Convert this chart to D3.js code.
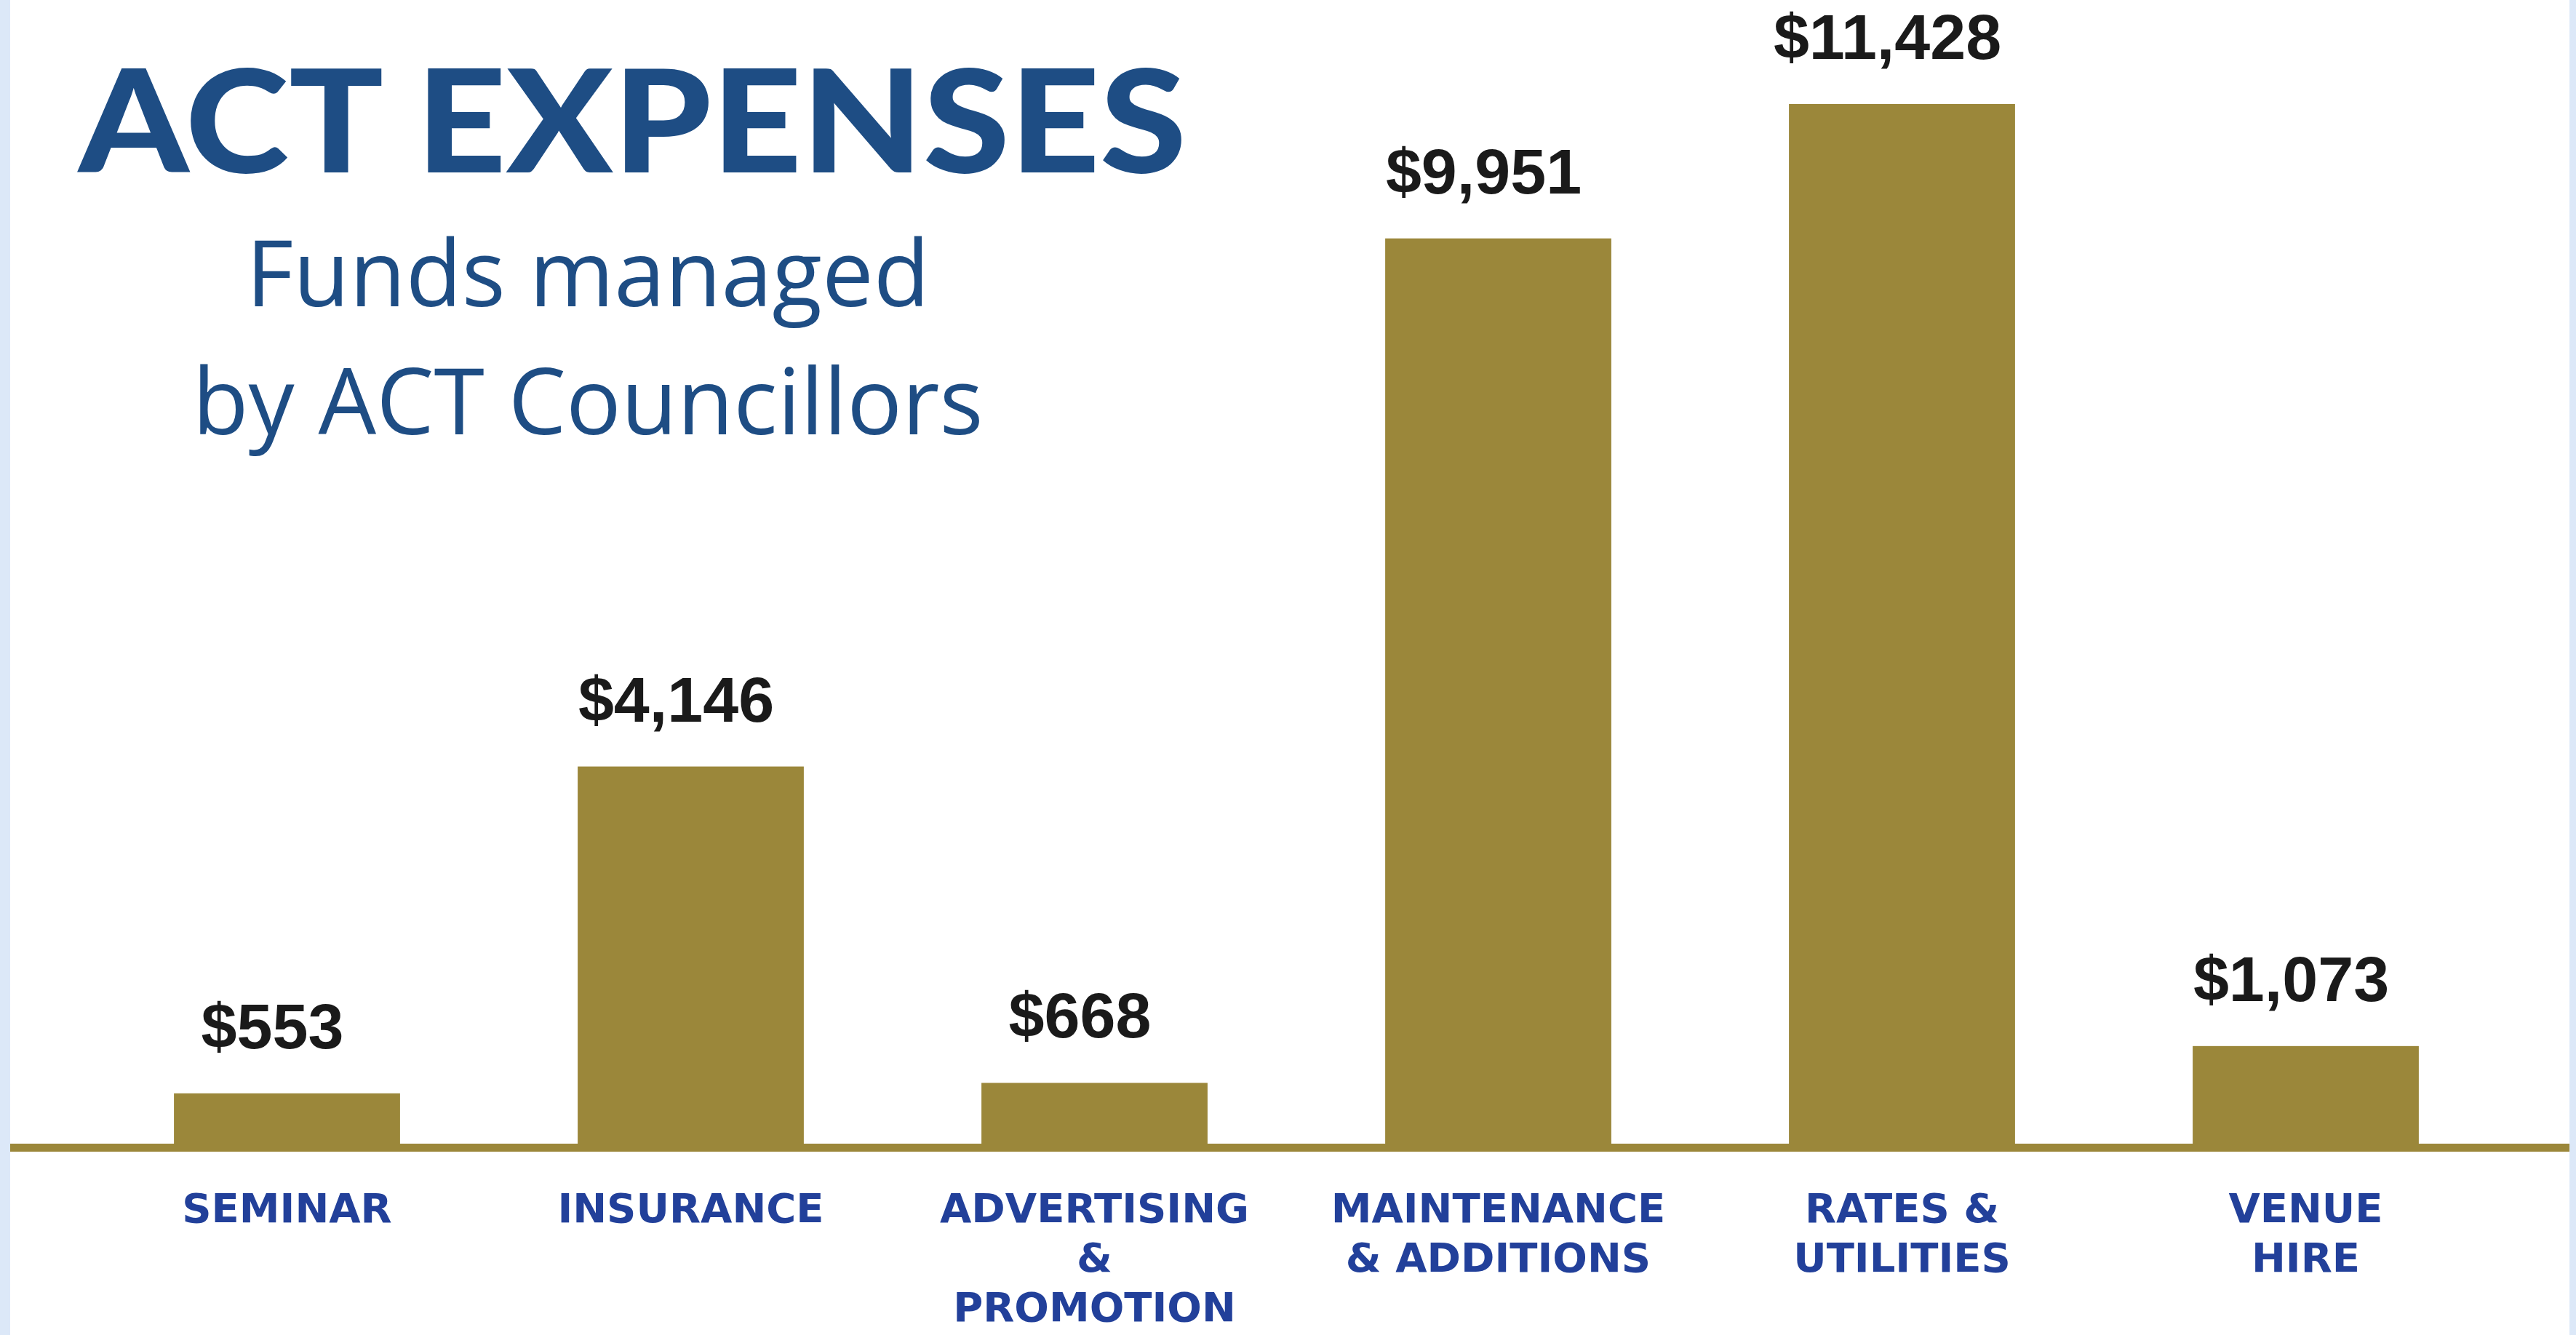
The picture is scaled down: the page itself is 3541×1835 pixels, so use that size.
<!DOCTYPE html>
<html>
<head>
<meta charset="utf-8">
<script src="https://cdn.jsdelivr.net/npm/d3@7"></script>
<style>
  html, body { margin: 0; padding: 0; background: #fff; overflow: hidden; }
</style>
</head>
<body>
<script>
// ACT expenses bar chart
var categories = ["SEMINAR", "INSURANCE", "ADVERTISING", "MAINTENANCE", "RATES", "VENUE"];
var categoryLines = [
    ["SEMINAR"],
    ["INSURANCE"],
    ["ADVERTISING", "&", "PROMOTION"],
    ["MAINTENANCE", "& ADDITIONS"],
    ["RATES &", "UTILITIES"],
    ["VENUE", "HIRE"]
];
var values = [553, 4146, 668, 9951, 11428, 1073];
var title = "ACT EXPENSES";
var subtitleLines = ["Funds managed", "by ACT Councillors"];

var width = 3541,
    height = 1835;

var barColor = "#9b873a",
    blue = "#1e4d84",
    labelBlue = "#22409a";

var svg = d3.select("body").append("svg")
    .attr("width", width)
    .attr("height", height);

// white page with light blue edges
svg.append("rect")
    .attr("width", width)
    .attr("height", height)
    .attr("fill", "#fff");
svg.append("rect")
    .attr("x", 0).attr("y", 0)
    .attr("width", 14).attr("height", height)
    .attr("fill", "#dce8f8");
svg.append("rect")
    .attr("x", 3532).attr("y", 0)
    .attr("width", 9).attr("height", height)
    .attr("fill", "#dce8f8");

// scales
var x = d3.scaleBand()
    .domain(categories)
    .range([117, 3447])
    .paddingInner(0.44)
    .paddingOuter(0.22);

var y = d3.scaleLinear()
    .domain([0, d3.max(values)])
    .range([1572, 143]);

// bars
svg.selectAll(".bar")
    .data(values)
    .enter().append("rect")
    .attr("class", "bar")
    .attr("x", function(d, i) { return x(categories[i]); })
    .attr("y", function(d) { return y(d); })
    .attr("width", x.bandwidth())
    .attr("height", function(d) { return y(0) - y(d); })
    .attr("fill", barColor);

// baseline
svg.append("rect")
    .attr("x", 14)
    .attr("y", y(0))
    .attr("width", 3532 - 14)
    .attr("height", 11)
    .attr("fill", barColor);

// value labels
svg.selectAll(".value")
    .data(values)
    .enter().append("text")
    .attr("class", "value")
    .attr("x", function(d, i) { return x(categories[i]) + x.bandwidth() / 2 - 20; })
    .attr("y", function(d) { return y(d) - 62; })
    .attr("text-anchor", "middle")
    .style("font-family", "'Liberation Sans', Arial, sans-serif")
    .style("font-weight", "bold")
    .style("font-size", "88px")
    .style("fill", "#1a1a1a")
    .text(function(d) { return "$" + d3.format(",")(d); });

// category labels
var cat = svg.selectAll(".cat")
    .data(categoryLines)
    .enter().append("text")
    .attr("class", "cat")
    .attr("text-anchor", "middle")
    .style("font-family", "'DejaVu Sans', sans-serif")
    .style("font-weight", "bold")
    .style("font-size", "56px")
    .style("fill", labelBlue);

cat.selectAll("tspan")
    .data(function(d, i) { return d.map(function(t) { return { t: t, c: categories[i] }; }); })
    .enter().append("tspan")
    .attr("x", function(d) { return x(d.c) + x.bandwidth() / 2; })
    .attr("y", function(d, j) { return 1680 + j * 68; })
    .text(function(d) { return d.t; });

// title
svg.append("text")
    .attr("x", 108)
    .attr("y", 237)
    .attr("textLength", 1523)
    .attr("lengthAdjust", "spacingAndGlyphs")
    .style("font-family", "Lato, sans-serif")
    .style("font-weight", "900")
    .style("font-size", "197px")
    .style("fill", blue)
    .text(title);

// subtitle
svg.selectAll(".sub")
    .data(subtitleLines)
    .enter().append("text")
    .attr("class", "sub")
    .attr("x", 808)
    .attr("y", function(d, i) { return 421 + i * 176; })
    .attr("text-anchor", "middle")
    .style("font-family", "'Open Sans', sans-serif")
    .style("font-size", "126px")
    .style("fill", blue)
    .text(function(d) { return d; });
</script>
</body>
</html>
